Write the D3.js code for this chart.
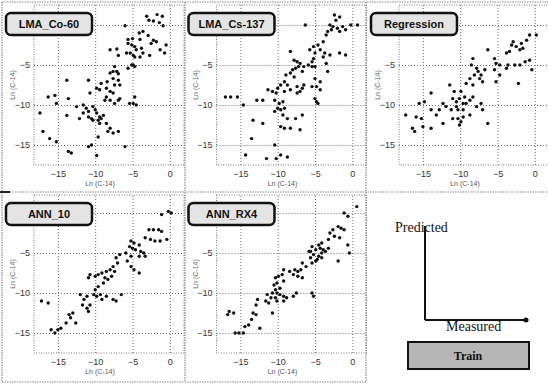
<!DOCTYPE html>
<html>
<head>
<meta charset="utf-8">
<script src="https://cdn.jsdelivr.net/npm/d3@7"></script>
<style>
  body { margin: 0; background: #fff; }
  svg { display: block; }
</style>
</head>
<body>
<div class="chart-container"></div>
<script>
// panel titles and tick values
const titles = ["LMA_Co-60", "LMA_Cs-137", "Regression", "ANN_10", "ANN_RX4"];
const tickVals = [-15, -10, -5, 0];
const axisLabel = "Ln (C-14)";

// [measured, predicted]
const lmaCo60 = [
  [-3.1,1.1],[-2.8,0.6],[-2.2,0.5],[-1.7,1.3],[-1.0,1.1],[-1.4,0.3],[-0.9,-0.1],[-6.0,-0.1],
  [-4.1,-1.0],[-3.6,-0.8],[-2.9,-1.3],[-5.0,-1.7],[-5.6,-1.8],[-4.0,-1.8],[-2.2,-1.9],[-2.5,-2.3],
  [-5.6,-2.3],[-5.1,-2.5],[-4.7,-2.7],[-4.5,-3.1],[-3.8,-2.9],[-3.6,-3.5],[-1.8,-2.1],[-1.3,-3.1],
  [-0.7,-3.5],[-0.5,-2.5],[-8.0,-3.1],[-7.1,-3.0],[-6.9,-3.8],[-5.8,-3.5],[-5.3,-3.5],[-4.9,-3.8],
  [-4.7,-4.0],[-4.0,-4.0],[-2.7,-3.8],[-5.1,-5.0],[-4.7,-5.2],[-5.6,-5.4],[-7.4,-5.2],[-7.6,-5.8],
  [-7.1,-5.8],[-6.9,-6.1],[-8.0,-6.0],[-8.4,-7.1],[-7.6,-6.7],[-6.9,-6.9],[-6.7,-7.5],[-7.4,-7.5],
  [-9.2,-7.3],[-9.4,-8.1],[-10.9,-6.9],[-9.8,-7.9],[-10.7,-8.5],[-4.9,-5.0],[-13.8,-6.9],[-8.5,-7.9],
  [-8.0,-8.3],[-7.6,-8.5],[-8.5,-9.0],[-8.0,-9.4],[-7.4,-9.8],[-6.9,-9.4],[-6.7,-9.2],[-8.7,-9.4],
  [-11.6,-10.0],[-11.2,-10.4],[-10.9,-10.8],[-10.3,-10.2],[-10.0,-10.6],[-9.8,-11.0],[-9.4,-11.5],
  [-9.6,-11.9],[-9.2,-11.7],[-8.9,-11.3],[-9.4,-12.3],[-8.5,-12.3],[-8.0,-12.9],[-8.3,-13.3],
  [-6.9,-13.3],[-7.6,-13.5],[-17.4,-11.0],[-16.3,-9.0],[-15.4,-8.8],[-15.2,-9.8],[-13.6,-9.2],
  [-13.8,-11.3],[-17.0,-13.3],[-16.1,-14.2],[-15.2,-14.6],[-13.6,-15.8],[-13.2,-16.0],[-10.9,-15.2],
  [-10.5,-15.0],[-9.8,-16.3],[-9.6,-14.0],[-6.0,-15.2],[-4.9,-9.8],[-4.7,-9.0],[-5.4,-9.8],
  [-4.5,-10.0],[-12.5,-10.2],[-11.6,-11.0],[-12.1,-11.7],[-10.9,-11.5],[-10.5,-11.7],[-10.3,-11.9]
];
const lmaCs137 = [
  [-2.4,1.25],[-1.7,1.0],[-2.2,0.6],[-3.0,0],[-2.6,-0.2],[-2.0,-0.4],[-1.3,-0.2],[-0.9,-0.6],
  [-0.2,0],[0.7,0],[-6.3,0],[-3.3,-0.8],[-2.8,-0.6],[-1.7,-0.8],[-3.5,-1.25],[-3.9,-2.1],
  [-4.6,-2.5],[-5.2,-2.7],[-4.3,-3.1],[-5.7,-3.1],[-5.0,-3.5],[-3.7,-3.5],[-3.0,-3.75],[-1.7,-3.5],
  [-0.9,-3.75],[-3.9,-4.0],[-5.2,-4.2],[-5.4,-4.6],[-8.3,-3.3],[-7.8,-4.4],[-7.4,-4.6],[-7.0,-4.8],
  [-7.2,-5.2],[-7.6,-5.4],[-8.0,-5.6],[-6.7,-5.8],[-6.5,-5.2],[-5.9,-5.0],[-5.4,-5.2],[-5.0,-5.2],
  [-8.3,-6.0],[-7.8,-6.5],[-8.9,-6.25],[-9.1,-7.1],[-8.7,-7.5],[-9.6,-7.5],[-10.0,-7.9],[-10.7,-8.3],
  [-11.3,-8.1],[-10.2,-8.5],[-9.1,-8.3],[-8.3,-8.1],[-7.4,-7.7],[-6.7,-7.9],[-6.5,-7.5],[-7.0,-8.3],
  [-7.4,-8.5],[-5.4,-7.7],[-4.8,-7.7],[-4.3,-8.1],[-5.0,-6.7],[-4.3,-7.1],[-3.3,-5.8],[-3.5,-4.8],
  [-10.4,-9.4],[-9.8,-9.8],[-9.3,-9.6],[-10.0,-10.4],[-9.6,-10.6],[-9.1,-10.4],[-10.4,-10.8],
  [-9.3,-11.25],[-8.7,-11.7],[-9.6,-12.7],[-9.1,-12.9],[-8.3,-12.9],[-7.0,-13.1],[-7.6,-11.7],
  [-6.7,-11.25],[-4.8,-9.6],[-4.6,-9.8],[-5.0,-9.2],[-17.0,-9.0],[-16.3,-9.0],[-15.4,-9.0],
  [-12.8,-9.4],[-12.0,-9.4],[-14.6,-10.0],[-13.3,-11.9],[-12.0,-12.3],[-13.5,-14.2],[-14.3,-16.25],
  [-11.5,-16.7],[-10.2,-16.7],[-9.6,-16.25],[-8.7,-16.5],[-10.4,-15.0]
];
const regression = [
  [-3.1,-2.5],[-2.9,-2.1],[-2.5,-2.7],[-1.8,-2.3],[-1.1,-1.9],[-1.6,-2.9],[-0.7,-1.25],[0.2,-1.25],
  [-2.0,-3.1],[-3.4,-3.3],[-3.8,-3.5],[-5.4,-4.2],[-5.2,-4.8],[-4.7,-5.0],[-6.3,-3.1],[-8.3,-4.2],
  [-8.5,-5.0],[-7.8,-5.4],[-7.6,-5.8],[-7.2,-6.25],[-8.1,-6.25],[-7.4,-6.7],[-7.0,-7.1],[-8.7,-6.7],
  [-9.2,-7.3],[-8.3,-7.5],[-6.7,-5.6],[-5.4,-5.6],[-4.7,-6.25],[-5.2,-7.1],[-3.8,-5.4],[-3.6,-5.0],
  [-2.7,-5.0],[-2.0,-5.0],[-1.3,-4.6],[-0.7,-4.4],[-0.4,-5.6],[-2.2,-7.3],[-11.4,-7.5],[-10.8,-8.3],
  [-11.0,-9.2],[-10.5,-9.6],[-10.1,-9.2],[-9.6,-9.8],[-9.4,-9.0],[-9.9,-8.3],[-9.2,-9.8],[-8.7,-9.4],
  [-8.3,-9.0],[-7.8,-10.2],[-7.2,-9.8],[-7.0,-10.6],[-8.7,-11.25],[-9.6,-11.5],[-10.3,-10.6],
  [-11.2,-10.6],[-11.9,-10.2],[-12.3,-9.8],[-12.8,-10.6],[-13.2,-11.25],[-13.9,-10.6],[-13.9,-8.5],
  [-14.8,-9.6],[-15.5,-9.8],[-17.3,-11.25],[-15.9,-11.5],[-15.2,-11.7],[-16.4,-12.9],[-16.1,-13.3],
  [-15.0,-12.7],[-13.9,-12.9],[-12.3,-12.3],[-11.0,-11.7],[-10.3,-11.7],[-9.9,-12.1],[-10.1,-12.5],
  [-6.3,-12.3],[-9.6,-10.6],[-10.5,-10.2]
];
const ann10 = [
  [-0.2,0.2],[0.2,0],[-1.1,-0.2],[-2.8,-2.1],[-2.2,-2.1],[-1.5,-2.1],[-1.1,-2.3],[-3.3,-3.1],
  [-2.6,-3.3],[-2.0,-3.5],[-1.3,-3.5],[-0.4,-3.3],[-5.2,-3.5],[-4.8,-3.75],[-4.1,-4.0],[-5.4,-4.2],
  [-5.0,-4.4],[-4.6,-4.6],[-3.9,-4.8],[-3.5,-5.0],[-3.3,-5.4],[-4.1,-5.4],[-5.2,-5.4],[-5.9,-5.0],
  [-5.7,-6.0],[-5.2,-6.7],[-4.8,-7.1],[-4.1,-7.5],[-6.7,-5.2],[-7.2,-5.6],[-7.0,-6.25],[-7.6,-6.7],
  [-7.4,-7.3],[-8.0,-7.1],[-8.5,-7.3],[-9.1,-7.5],[-9.6,-7.7],[-10.0,-7.9],[-10.7,-7.7],[-10.9,-8.1],
  [-8.7,-8.1],[-8.3,-8.3],[-7.8,-7.9],[-8.9,-8.75],[-9.6,-9.2],[-10.0,-9.6],[-10.2,-10.2],
  [-9.8,-10.4],[-9.3,-10.2],[-9.1,-10.8],[-8.5,-10.4],[-7.6,-10.8],[-7.2,-11.0],[-6.5,-10.2],
  [-11.1,-10.4],[-11.5,-10.8],[-12.0,-10.2],[-11.7,-11.5],[-11.1,-11.9],[-10.9,-12.3],[-13.0,-12.5],
  [-13.5,-12.7],[-13.3,-13.1],[-13.9,-13.75],[-14.6,-14.4],[-15.0,-14.6],[-15.4,-15.0],[-15.9,-14.6],
  [-17.2,-11.0],[-16.3,-11.25],[-12.6,-13.75],[-10.7,-11.5]
];
const annRx4 = [
  [0.6,0.8],[-1.1,0],[-0.6,-0.4],[-1.9,-1.7],[-1.5,-1.9],[-1.1,-2.1],[-2.6,-2.1],[-3.0,-2.5],
  [-2.4,-2.9],[-1.7,-3.1],[-3.2,-3.3],[-4.1,-3.75],[-4.5,-4.0],[-5.4,-4.2],[-4.9,-4.6],[-5.6,-4.8],
  [-5.2,-5.2],[-4.5,-5.4],[-4.1,-5.0],[-3.6,-4.8],[-3.2,-4.4],[-0.6,-4.0],[-0.4,-5.0],[-1.9,-6.0],
  [-4.9,-6.0],[-5.4,-6.25],[-6.7,-6.25],[-6.2,-6.7],[-6.9,-7.1],[-7.3,-7.3],[-7.7,-7.1],[-8.4,-7.3],
  [-7.9,-7.7],[-7.3,-7.9],[-6.7,-8.1],[-9.2,-7.1],[-9.4,-7.7],[-9.9,-7.9],[-10.3,-8.1],[-9.2,-8.5],
  [-10.1,-8.75],[-10.5,-9.0],[-9.7,-9.4],[-10.3,-9.6],[-10.7,-10.0],[-10.1,-10.0],[-9.7,-10.2],
  [-9.2,-10.4],[-10.3,-10.6],[-10.9,-10.6],[-11.4,-10.2],[-11.6,-11.0],[-11.2,-11.25],[-10.1,-11.0],
  [-9.2,-11.0],[-8.8,-10.6],[-7.9,-10.4],[-7.5,-10.0],[-12.7,-10.8],[-12.9,-11.5],[-13.3,-12.5],
  [-12.9,-12.7],[-13.5,-13.3],[-13.9,-14.0],[-14.4,-14.2],[-14.6,-15.0],[-15.2,-15.0],[-15.7,-15.0],
  [-16.5,-12.3],[-15.9,-12.5],[-16.7,-12.7],[-12.4,-14.4],[-10.7,-12.5],[-5.4,-10.0],[-5.2,-10.4],
  [-5.8,-4.8],[-5.6,-5.6],[-4.7,-5.8],[-4.1,-5.6],[-3.9,-4.6],[-4.3,-4.4]
];
const panelData = [lmaCo60, lmaCs137, regression, ann10, annRx4];

// legend panel texts
const legendY = "Predicted", legendX = "Measured", legendBox = "Train";

const W = 548, H = 384;
const colX = [0, 182.5, 365];
const rows = [{top: 5, bottom: 165, dom: [-17.5, 2.5]}, {top: 195, bottom: 353, dom: [-17.5, 2.25]}];

const svg = d3.select('.chart-container').append('svg')
  .attr('width', W).attr('height', H)
  .style('font-family', 'Arial, "Liberation Sans", sans-serif');

// panel frame lines
const frame = svg.append('g').attr('stroke', '#8a8a8a').attr('stroke-width', 1.2)
  .attr('stroke-dasharray', '1.5,1');
[[2, 2, 2, 382], [185, 2, 185, 382], [366, 2, 366, 382], [2, 2, 548, 2], [0, 192, 548, 192], [2, 382, 366, 382]]
  .forEach(l => frame.append('line').attr('x1', l[0]).attr('y1', l[1]).attr('x2', l[2]).attr('y2', l[3]));
svg.append('line').attr('x1', 0).attr('x2', 10).attr('y1', 192).attr('y2', 192)
  .attr('stroke', '#222').attr('stroke-width', 2);

panelData.forEach((pts, i) => {
  const x0 = colX[i % 3];
  const r = rows[Math.floor(i / 3)];
  const x = d3.scaleLinear().domain([-18.2, 1.9]).range([x0 + 34, x0 + 184]);
  const y = d3.scaleLinear().domain(r.dom).range([r.bottom, r.top]);
  const g = svg.append('g');

  // plot area frame
  g.append('rect')
    .attr('x', x0 + 34).attr('y', r.top)
    .attr('width', 150).attr('height', r.bottom - r.top)
    .attr('fill', 'none').attr('stroke', '#7a7a7a').attr('stroke-dasharray', '1,1.5');

  // dotted grid from the axes (the 0 label on y sits under the title box, so it is left out)
  const xAxis = g.append('g').attr('transform', 'translate(0,' + r.bottom + ')')
    .call(d3.axisBottom(x).tickValues(tickVals).tickSize(-(r.bottom - r.top)).tickPadding(6).tickFormat(d3.format('d')));
  const yAxis = g.append('g').attr('transform', 'translate(' + (x0 + 34) + ',0)')
    .call(d3.axisLeft(y).tickValues(tickVals).tickSize(-150).tickPadding(4)
      .tickFormat(d => d === 0 ? '' : d3.format('d')(d)));
  [xAxis, yAxis].forEach(a => {
    a.select('.domain').remove();
    a.selectAll('line').attr('stroke', '#6a6a6a').attr('stroke-dasharray', '1,2');
    a.selectAll('text').attr('fill', '#333').style('font-size', '9px');
  });

  // axis labels
  g.append('text').attr('x', x0 + 100).attr('y', r.bottom + 21)
    .attr('text-anchor', 'middle').attr('fill', '#555').style('font-size', '7px').text(axisLabel);
  g.append('text')
    .attr('transform', 'translate(' + (x0 + 15) + ',' + ((r.top + r.bottom) / 2) + ') rotate(-90)')
    .attr('text-anchor', 'middle').attr('fill', '#666').style('font-size', '7px').text(axisLabel);

  // scatter points
  g.append('g').selectAll('circle').data(pts).enter().append('circle')
    .attr('cx', d => x(d[0])).attr('cy', d => y(d[1]))
    .attr('r', 1.7).attr('fill', '#111');

  // title box
  g.append('rect')
    .attr('x', x0 + 6).attr('y', r.top + 8)
    .attr('width', 86).attr('height', 22).attr('rx', 5)
    .attr('fill', '#e4e4e4').attr('stroke', '#111').attr('stroke-width', 2.5);
  g.append('text').attr('x', x0 + 49).attr('y', r.top + 23)
    .attr('text-anchor', 'middle').attr('fill', '#111')
    .style('font-size', '11px').style('font-weight', 'bold').text(titles[i]);
});

// legend panel: measured / predicted axes and Train box
const lg = svg.append('g');
lg.append('line').attr('x1', 425).attr('y1', 226).attr('x2', 425).attr('y2', 320)
  .attr('stroke', '#111').attr('stroke-width', 2);
lg.append('line').attr('x1', 425).attr('y1', 320).attr('x2', 526).attr('y2', 320)
  .attr('stroke', '#111').attr('stroke-width', 2);
lg.append('circle').attr('cx', 526).attr('cy', 320).attr('r', 2.5).attr('fill', '#111');
lg.append('text').attr('x', 395).attr('y', 232)
  .style('font-family', '"Liberation Serif", "Times New Roman", serif').style('font-size', '14px')
  .attr('fill', '#111').text(legendY);
lg.append('text').attr('x', 446).attr('y', 331)
  .style('font-family', '"Liberation Serif", "Times New Roman", serif').style('font-size', '14px')
  .attr('fill', '#111').text(legendX);
lg.append('rect').attr('x', 408).attr('y', 342).attr('width', 121).attr('height', 27)
  .attr('fill', '#b5b5b5').attr('stroke', '#111').attr('stroke-width', 2);
lg.append('text').attr('x', 468).attr('y', 360).attr('text-anchor', 'middle')
  .style('font-family', '"Liberation Serif", "Times New Roman", serif').style('font-size', '12px')
  .style('font-weight', 'bold').attr('fill', '#111').text(legendBox);
</script>
</body>
</html>
